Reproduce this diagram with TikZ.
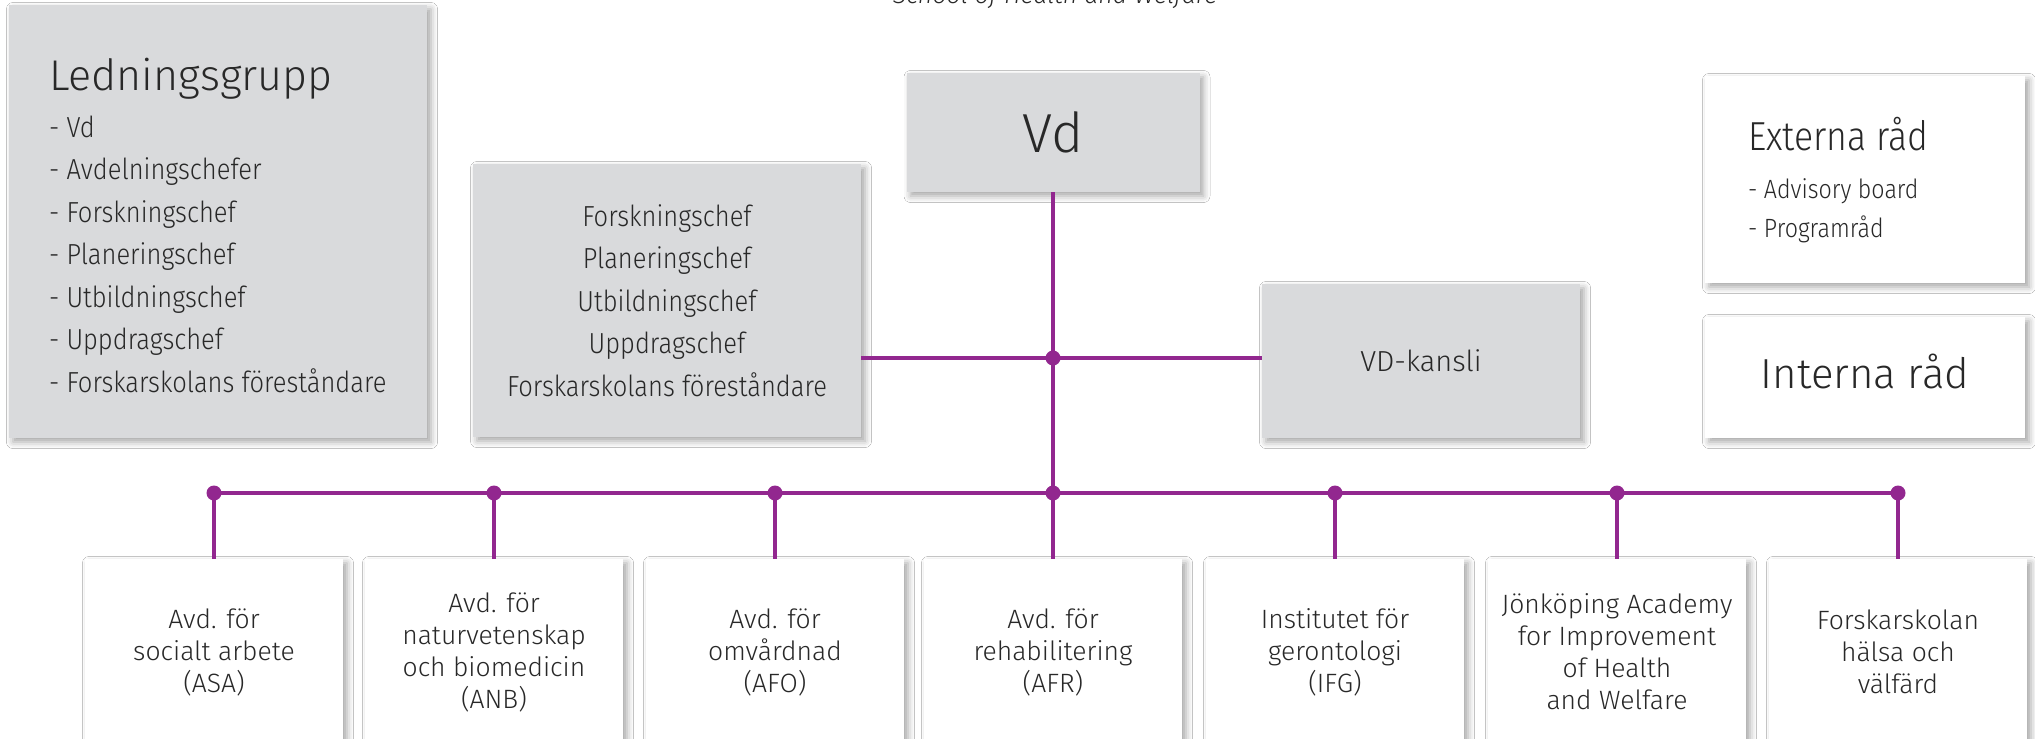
\documentclass[tikz,border=0pt]{standalone}
\usepackage{fontspec}
\setmainfont{Fira Sans Light}
\newfontfamily\narrowfont{Fira Sans Light}[FakeStretch=0.88]
\usetikzlibrary{positioning,shadows.blur}

\definecolor{jupurple}{RGB}{146,39,143}
\definecolor{boxgrey}{RGB}{217,218,220}
\definecolor{inkgrey}{RGB}{40,40,40}

\tikzset{
  softshadow/.style={blur shadow={shadow xshift=4pt,shadow yshift=-4pt,shadow blur radius=6.5pt,shadow opacity=35}},
  greybox/.style={fill=boxgrey,softshadow,inner sep=0pt,text=inkgrey,align=center},
  whitebox/.style={fill=white,softshadow,inner sep=0pt,text=inkgrey,align=center},
  deptbox/.style={whitebox,minimum width=258pt,minimum height=186pt,font=\fontsize{26.5}{32}\selectfont},
  listtext/.style={text=inkgrey,inner sep=0pt,anchor=base west},
  orgline/.style={draw=jupurple,line width=3.5pt},
  junction/.style={fill=jupurple}
}

\begin{document}
\begin{tikzpicture}[x=1pt,y=-1pt]
  \useasboundingbox (0,0) rectangle (2035,739);
  \fill[white] (0,0) rectangle (2035,739);

  % header, cut off at the top
  \node[text=inkgrey,inner sep=0pt,anchor=base,font=\fontsize{25}{30}\selectfont\itshape] (school) at (1055,3) {School of Health and Welfare};

  % left column
  \node[greybox,minimum width=418pt,minimum height=433pt] (ledn) at (218,221.5) {};
  \node[listtext,font=\fontsize{43}{50}\selectfont] (ledn-title) at (49,90) {Ledningsgrupp};
  \foreach \i/\t in {0/Vd,1/Avdelningschefer,2/Forskningschef,3/Planeringschef,4/Utbildningschef,5/Uppdragschef,6/Forskarskolans föreståndare}
    \node[listtext,font=\narrowfont\fontsize{29}{34}\selectfont] (ledn-\i) at (49,{137+42.5*\i}) {- \t};

  % top row
  \node[greybox,minimum width=293pt,minimum height=119pt,font=\fontsize{55}{60}\selectfont] (vd) at (1053,132.5) {Vd};
  \node[greybox,minimum width=388pt,minimum height=273pt,font=\narrowfont\fontsize{29}{42.5}\selectfont] (chefs) at (667,300.5)
    {Forskningschef\\Planeringschef\\Utbildningschef\\Uppdragschef\\Forskarskolans föreståndare};
  \node[greybox,minimum width=318pt,minimum height=154pt,font=\fontsize{29}{34}\selectfont] (kansli) at (1421,361) {VD-kansli};

  % right column
  \node[whitebox,minimum width=320pt,minimum height=207pt] (extern) at (1865,179.5) {};
  \node[listtext,font=\narrowfont\fontsize{40.5}{46}\selectfont] (extern-title) at (1748,150) {Externa råd};
  \node[listtext,font=\narrowfont\fontsize{26.4}{32}\selectfont] (extern-1) at (1748,198) {- Advisory board};
  \node[listtext,font=\narrowfont\fontsize{26.4}{32}\selectfont] (extern-2) at (1748,237) {- Programråd};
  \node[whitebox,minimum width=320pt,minimum height=121pt] (intern) at (1865,377.5) {};
  \node[text=inkgrey,inner sep=0pt,anchor=base,font=\fontsize{42}{46}\selectfont] (intern-title) at ([yshift=-11pt]intern.center) {Interna råd};

  % departments
  \foreach \n/\x/\t in {1/214/{Avd. för\\socialt arbete\\(ASA)},
                        2/494/{Avd. för\\naturvetenskap\\och biomedicin\\(ANB)},
                        3/775/{Avd. för\\omvårdnad\\(AFO)},
                        4/1053/{Avd. för\\rehabilitering\\(AFR)},
                        5/1335/{Institutet för\\gerontologi\\(IFG)},
                        6/1617/{Jönköping Academy\\for Improvement\\of Health\\and Welfare},
                        7/1898/{Forskarskolan\\hälsa och\\välfärd}}
    \node[deptbox] (dept\n) at (\x,652) {\t};

  % connectors
  \coordinate (midhub) at (1053,358);
  \coordinate (bus) at (1053,493);
  \draw[orgline] (chefs.east |- midhub) -- (kansli.west |- midhub);
  \draw[orgline] (vd.south) -- (dept4.north);
  \draw[orgline] (dept1.north |- bus) -- (dept7.north |- bus);
  \foreach \n in {1,...,7} {
    \draw[orgline] (dept\n.north |- bus) -- (dept\n.north);
    \fill[junction] (dept\n.north |- bus) circle (7.5);
  }
  \fill[junction] (vd.south |- midhub) circle (7.5);
\end{tikzpicture}
\end{document}
